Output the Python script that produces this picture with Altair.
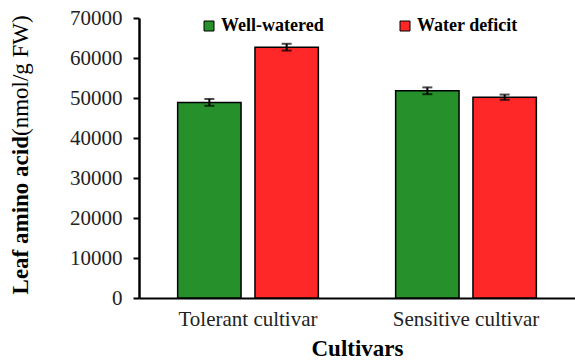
import altair as alt
import pandas as pd

# Leaf amino acid content by cultivar and watering treatment
cultivars = ["Tolerant cultivar", "Tolerant cultivar", "Sensitive cultivar", "Sensitive cultivar"]
treatments = ["Well-watered", "Water deficit", "Well-watered", "Water deficit"]
values = [48900, 62700, 51800, 50200]
errors = [850, 850, 850, 650]
y_ticks = [0, 10000, 20000, 30000, 40000, 50000, 60000, 70000]

cultivar_order = ["Tolerant cultivar", "Sensitive cultivar"]
treatment_order = ["Well-watered", "Water deficit"]
colors = ["#26912A", "#FF2828"]

df = pd.DataFrame({
    "cultivar": cultivars,
    "treatment": treatments,
    "value": values,
    "err": errors,
})
df["lo"] = df["value"] - df["err"]
df["hi"] = df["value"] + df["err"]

FONT = "Liberation Serif"

x_axis = alt.Axis(
    title="Cultivars",
    labelAngle=0,
    labelFont=FONT,
    labelFontSize=21,
    labelColor="#222",
    labelPadding=10,
    ticks=False,
    tickSize=0,
    domainColor="black",
    domainWidth=2,
    titleFont=FONT,
    titleFontSize=23,
    titleFontWeight="bold",
    titleColor="black",
    titleY=57,
    titleBaseline="alphabetic",
)
x_scale = alt.Scale(paddingInner=0, paddingOuter=0)

y_axis = alt.Axis(
    title=None,
    values=y_ticks,
    format="d",
    grid=False,
    labelOverlap=False,
    labelFont=FONT,
    labelFontSize=21,
    labelColor="#222",
    labelPadding=11,
    tickSize=6,
    tickWidth=2,
    tickColor="black",
    domainColor="black",
    domainWidth=2.5,
)
y_scale = alt.Scale(domain=[0, 70000], nice=False)


def xenc():
    return alt.X("cultivar:N", sort=cultivar_order, scale=x_scale, axis=x_axis)


def xoffenc():
    return alt.XOffset(
        "treatment:N",
        sort=treatment_order,
        scale=alt.Scale(paddingInner=0.18, paddingOuter=0.5),
    )


def yenc(field):
    return alt.Y(f"{field}:Q", scale=y_scale, axis=y_axis)


color = alt.Color(
    "treatment:N",
    sort=treatment_order,
    scale=alt.Scale(domain=treatment_order, range=colors),
    legend=alt.Legend(
        title=None,
        orient="none",
        legendX=61,
        legendY=-1,
        direction="horizontal",
        columnPadding=72,
        padding=0,
        labelFont=FONT,
        labelFontSize=18,
        labelFontWeight="bold",
        labelColor="black",
        labelOffset=3,
        symbolType="square",
        symbolSize=100,
        symbolStrokeColor="black",
        symbolStrokeWidth=1,
    ),
)

base = alt.Chart(df)

bars = base.mark_bar(stroke="black", strokeWidth=1.5).encode(
    x=xenc(), xOffset=xoffenc(), y=yenc("value"), color=color
)

whisker = base.mark_rule(color="black", strokeWidth=2).encode(
    x=xenc(), xOffset=xoffenc(), y=yenc("lo"), y2="hi:Q"
)

cap_lo = base.mark_tick(color="black", thickness=2, size=10).encode(
    x=xenc(), xOffset=xoffenc(), y=yenc("lo")
)
cap_hi = base.mark_tick(color="black", thickness=2, size=10).encode(
    x=xenc(), xOffset=xoffenc(), y=yenc("hi")
)

# y-axis title: bold measure name followed by regular-weight unit
title_df = pd.DataFrame({"bold": ["Leaf amino acid"], "unit": ["(nmol/g FW)"]})
title_bold = alt.Chart(title_df).mark_text(
    font=FONT, fontSize=23, fontWeight="bold", angle=270,
    align="right", baseline="middle", color="black",
).encode(text="bold:N", x=alt.value(-118), y=alt.value(118))
title_unit = alt.Chart(title_df).mark_text(
    font=FONT, fontSize=23, fontWeight="normal", angle=270,
    align="left", baseline="middle", color="black",
).encode(text="unit:N", x=alt.value(-118), y=alt.value(118))

chart = (
    alt.layer(bars, whisker, cap_lo, cap_hi, title_bold, title_unit)
    .properties(
        width=436,
        height=280,
        autosize=alt.AutoSizeParams(type="none"),
        padding={"left": 139, "top": 18, "right": 0, "bottom": 62},
    )
    .configure(background="white", font=FONT)
    .configure_view(stroke=None)
    .configure_axis(labelFont=FONT, titleFont=FONT)
    .configure_legend(labelFont=FONT)
)

chart.save("out.html", embed_options={"renderer": "svg", "actions": False})
